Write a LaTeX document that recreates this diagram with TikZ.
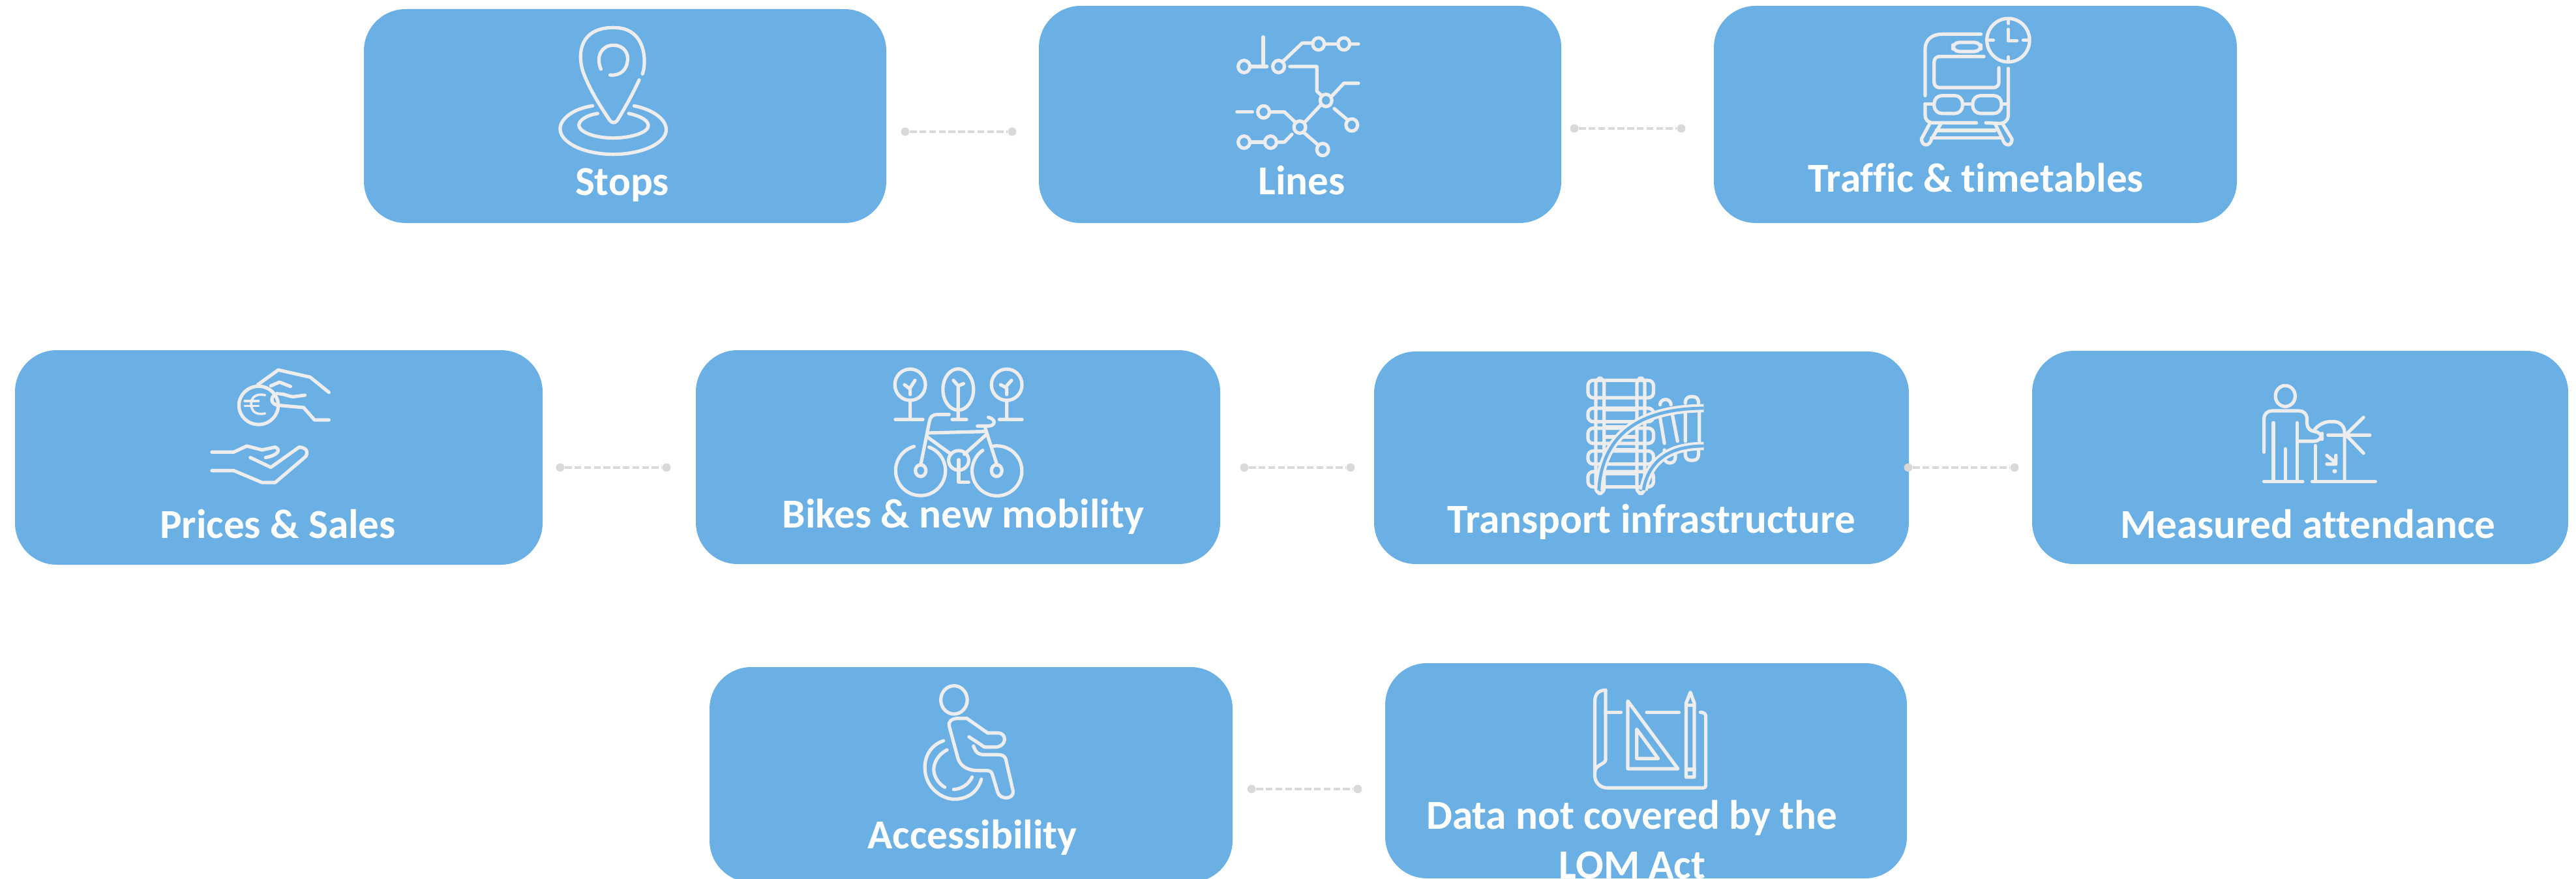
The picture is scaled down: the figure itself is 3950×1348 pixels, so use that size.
\documentclass[tikz,border=0pt]{standalone}
\usepackage{fontspec}
\setmainfont[Ligatures=CommonOff,Contextuals=NoAlternate]{Carlito}
\definecolor{boxc}{HTML}{6AB0E4}
\definecolor{iconc}{HTML}{EDEDED}
\definecolor{linkc}{HTML}{D9D9D9}
\tikzset{
  box/.style={draw=none,fill=boxc,rectangle,rounded corners=16pt,inner sep=0pt},
  lab/.style={text=white,font=\bfseries\fontsize{15.8}{19}\selectfont,anchor=base,inner sep=0pt,align=center},
  linkdot/.style={draw=none,fill=linkc,circle,minimum size=3.2pt,inner sep=0pt},
  linkline/.style={draw=linkc,line width=0.8pt,dash pattern=on 2.6pt off 1.1pt},
  view/.style n args={3}{shift={(#1,#2)},xscale=#3,yscale=0.33333,color=iconc,line width=1.3pt,line cap=round,line join=round}
}
\begin{document}
\begin{tikzpicture}[x=0.25pt,y=-0.25pt]
\useasboundingbox (0,0) rectangle (3950,1348);
\clip (0,0) rectangle (3950,1348);
% boxes
\node[box,minimum width=200.25pt,minimum height=82pt] (stops) at (958.5,178) {};
\node[box,minimum width=200.25pt,minimum height=83.25pt] (lines) at (1993.5,175.5) {};
\node[box,minimum width=200.5pt,minimum height=83.25pt] (traffic) at (3029,175.5) {};
\node[box,minimum width=202.25pt,minimum height=82.25pt] (prices) at (427.5,701.5) {};
\node[box,minimum width=201pt,minimum height=82pt] (bikes) at (1469,701) {};
\node[box,minimum width=205pt,minimum height=81.5pt] (infra) at (2517,702) {};
\node[box,minimum width=205.5pt,minimum height=81.75pt] (measured) at (3527,701.5) {};
\node[box,minimum width=200.5pt,minimum height=82.5pt] (access) at (1489,1188) {};
\node[box,minimum width=200pt,minimum height=82.5pt] (notlom) at (2524,1182) {};
% labels
\node[lab] (stopsl) at (954,299) {Stops};
\node[lab] (linesl) at (1996,298) {Lines};
\node[lab] (trafficl) at (3030,295) {Traffic \& timetables};
\node[lab] (pricesl) at (426,825) {Prices \& Sales};
\node[lab] (bikesl) at (1477,809) {Bikes \& new mobility};
\node[lab] (infral) at (2532,817) {Transport infrastructure};
\node[lab] (measuredl) at (3539,825) {Measured attendance};
\node[lab] (accessl) at (1491,1301) {Accessibility};
\node[lab] (notloml) at (2502,1271) {Data not covered by the};
\node[lab] (notloml2) at (2503,1347) {LOM Act};
% connectors
\foreach \n/\xa/\xb/\yy in {a/1388/1552/202,b/2414/2578/197,c/859/1022/717,d/1908/2071/717,e/2926/3089/717,f/1919/2082/1210}{
  \node[linkdot] (\n1) at (\xa,\yy) {};
  \node[linkdot] (\n2) at (\xb,\yy) {};
  \draw[linkline] (\n1) -- (\n2);
}
% Stops icon
\begin{scope}[view={540}{0}{0.6378}]
\draw (698,340) .. controls (708,290) and (708,125) .. (628,127) .. controls (550,127) and (540,240) .. (555,330) .. controls (570,410) and (600,500) .. (620,555) .. controls (625,567) and (632,567) .. (637,555) .. controls (655,500) and (675,430) .. (690,368);
\draw (598,318) .. controls (585,260) and (600,208) .. (628,208) .. controls (655,208) and (665,250) .. (662,280) .. controls (660,320) and (645,350) .. (620,345);
\draw (578,487) .. controls (530,500) and (498,550) .. (500,597) .. controls (503,660) and (560,710) .. (628,710) .. controls (695,710) and (755,660) .. (755,597) .. controls (755,550) and (725,505) .. (678,487);
\draw (590,522) .. controls (560,532) and (545,555) .. (545,578) .. controls (548,610) and (585,635) .. (628,635) .. controls (670,635) and (712,610) .. (712,578) .. controls (712,555) and (695,535) .. (665,522);
\end{scope}
% Lines icon
\begin{scope}[view={1560}{0}{0.6378}]
\foreach \p in {(545,306),(628,306),(724,202),(785,202),(742,462),(592,515),(679,585),(804,575),(545,654),(609,654),(734,688)}
  \draw \p ellipse[x radius=14,y radius=28];
\draw (591,170)--(591,306);
\draw (561,306)--(600,306);
\draw (640,280)--(685,198)--(710,198);
\draw (738,202)--(771,202);
\draw (800,202)--(820,202);
\draw (655,306)--(720,306)--(720,420)--(732,440);
\draw (757,440)--(785,383)--(820,383);
\draw (762,500)--(793,550);
\draw (730,482)--(692,560);
\draw (528,515)--(565,515);
\draw (608,515)--(642,515)--(668,562);
\draw (560,654)--(595,654);
\draw (624,654)--(642,654)--(660,618);
\draw (690,612)--(722,665);
\end{scope}
% Traffic icon
\begin{scope}[view={2580}{0}{0.574}]
\draw (870,185) ellipse[x radius=57,y radius=100];
\draw (870,90)--(870,108) (870,262)--(870,280) (818,185)--(830,185) (910,185)--(922,185);
\draw (870,135)--(870,188)--(893,188);
\draw (797,157) -- (695,157) .. controls (665,157) and (648,185) .. (648,225) -- (648,440);
\draw[rounded corners=2.5pt] (722,195) rectangle (797,237);
\draw[rounded corners=2pt] (805,260)--(672,260)--(672,403)--(845,403)--(845,312);
\draw (870,315)--(870,530) .. controls (870,555) and (860,568) .. (845,568) -- (810,565);
\draw (648,478)--(648,530) .. controls (648,550) and (655,565) .. (670,565) -- (785,565);
\draw[rounded corners=3pt] (672,440) rectangle (748,522);
\draw[rounded corners=3pt] (775,440) rectangle (852,522);
\draw (648,478)--(672,478) (748,478)--(775,478) (852,478)--(870,478);
\draw (660,570)--(638,640) .. controls (640,675) and (660,675) .. (665,640) -- (690,570);
\draw (835,570)--(855,640) .. controls (860,675) and (880,675) .. (880,640) -- (855,570);
\draw (678,600)--(835,600) (665,635)--(850,635);
\end{scope}
% Prices icon
\begin{scope}[view={0}{520}{0.6698}]
\draw (592,305) ellipse[x radius=45,y radius=88];
\draw[line width=0.9pt] (607,258) .. controls (585,248) and (575,270) .. (575,298) .. controls (575,330) and (585,352) .. (607,342);
\draw[line width=0.9pt] (560,285)--(592,285) (560,308)--(592,308);
\draw (590,210)--(637,142)--(710,175)--(753,245);
\draw (620,215)--(640,198)--(665,218);
\draw (640,252) .. controls (650,250) and (660,265) .. (672,265) -- (698,258);
\draw (635,250) .. controls (615,265) and (620,305) .. (640,305) -- (695,315) -- (720,372) -- (753,372);
\draw (485,520)--(535,520)--(565,492)--(600,510)--(630,497) .. controls (645,510) and (635,535) .. (608,545);
\draw (573,545)--(620,590)--(685,497) .. controls (705,500) and (705,525) .. (700,540) -- (630,660) -- (600,660) -- (535,605) -- (485,605);
\end{scope}
% Bikes icon
\begin{scope}[view={1050}{520}{0.6698}]
\draw (516,210) ellipse[x radius=35,y radius=72];
\draw (626,232) ellipse[x radius=35,y radius=95];
\draw (737,210) ellipse[x radius=35,y radius=72];
\draw (516,282)--(516,370) (482,370)--(545,370) (516,255)--(516,230)--(503,210) (516,225)--(527,190);
\draw (626,327)--(626,370) (612,370)--(645,370) (626,320)--(626,215)--(615,190) (626,215)--(638,205);
\draw (737,282)--(737,370) (720,370)--(772,370) (737,255)--(737,225)--(723,210) (737,215)--(748,190);
\draw (605,347)--(580,347) .. controls (565,347) and (562,360) .. (560,380) -- (540,580);
\draw (695,360) .. controls (715,370) and (710,400) .. (695,400) -- (670,400);
\draw (555,432)--(690,425);
\draw (555,450)--(610,530);
\draw (690,440)--(640,530);
\draw (688,410)--(715,580);
\draw (540,605) ellipse[x radius=12,y radius=27];
\draw (714,605) ellipse[x radius=12,y radius=27];
\draw (525,494) arc[start angle=255,end angle=-70,x radius=57,y radius=115];
\draw (682,512) arc[start angle=235,end angle=-100,x radius=57,y radius=115];
\draw (627,558) ellipse[x radius=23,y radius=45];
\draw (627,555)--(627,658)--(650,658);
\end{scope}
% Transport infrastructure icon
\begin{scope}[view={2090}{520}{0.6698}]
\foreach \a/\b in {190/270,318/380,410/480,515/575,610/680}
  \draw[rounded corners=2pt] (515,\a) rectangle (665,\b);
\foreach \a in {325,405,450,510,620}
  \draw (552,\a)--(625,\a);
\draw[rounded corners=2pt] (533,180) rectangle (552,710);
\draw[rounded corners=2pt] (627,180) rectangle (645,710);
\draw[rounded corners=2pt] (680,300)--(680,278)--(705,278)--(705,300);
\draw[rounded corners=2pt] (738,295)--(738,265)--(768,265)--(768,295);
\draw[rounded corners=2pt] (690,510)--(690,570)--(715,570)--(715,510);
\draw[rounded corners=2pt] (738,505)--(738,558)--(768,558)--(768,505);
\draw (680,360)--(690,480) (708,345)--(720,470) (738,340)--(738,470) (770,335)--(770,470);
\draw[double=boxc,double distance=1.2pt,line width=1pt,line cap=butt] (540,695) .. controls (545,500) and (600,320) .. (780,318);
\draw[double=boxc,double distance=1.2pt,line width=1pt,line cap=butt] (642,695) .. controls (650,600) and (680,492) .. (780,492);
\end{scope}
% Measured icon
\begin{scope}[view={3000}{520}{0.606}]
\draw (832,262) ellipse[x radius=25,y radius=48];
\draw[rounded corners=3pt] (778,520)--(778,330)--(887,330)--(887,425)--(925,425)--(925,470)--(865,470);
\draw (802,385)--(802,650) (862,385)--(862,650) (832,505)--(832,650) (778,655)--(876,655);
\draw (908,490)--(908,650) (900,655)--(1060,655);
\draw[rounded corners=4pt] (982,650)--(982,380)--(918,380)--(905,420);
\draw (937,535)--(960,570) (960,535)--(960,575)--(937,575);
\fill (957,608) ellipse[x radius=6,y radius=10];
\draw (985,440)--(1030,360) (985,440)--(1030,525) (940,442)--(1046,442);
\end{scope}
% Accessibility icon
\begin{scope}[view={1060}{1000}{0.676}]
\draw (596,220) ellipse[x radius=30,y radius=65];
\draw (672,372) -- (625,305) -- (605,305) .. controls (590,305) and (583,320) .. (585,340) -- (605,490) .. controls (612,530) and (630,545) .. (650,545) -- (670,545) .. controls (680,545) and (682,555) .. (684,570) -- (695,645) .. controls (700,680) and (732,680) .. (730,640) -- (713,490) .. controls (710,478) and (705,472) .. (695,472) -- (665,472) .. controls (650,472) and (645,460) .. (640,432);
\draw (630,390)--(665,437)--(690,437) .. controls (715,437) and (718,372) .. (695,372) -- (672,372);
\draw (572,408) .. controls (540,430) and (528,490) .. (530,540) .. controls (532,620) and (565,675) .. (597,677) .. controls (630,675) and (650,640) .. (658,585);
\draw (580,450) .. controls (560,470) and (550,510) .. (550,540) .. controls (550,570) and (560,605) .. (575,622);
\draw (637,575) .. controls (630,605) and (615,630) .. (595,632);
\end{scope}
% Data icon
\begin{scope}[view={2100}{1000}{0.5485}]
\draw (660,175) .. controls (640,175) and (630,195) .. (630,225) -- (630,570) .. controls (630,600) and (645,625) .. (665,625) -- (930,625) .. controls (938,625) and (940,620) .. (940,610) -- (940,295) .. controls (940,285) and (935,277) .. (925,277);
\draw (660,175)--(660,495) .. controls (660,515) and (630,520) .. (630,550);
\draw (660,277)--(703,277) (775,277)--(865,277);
\draw (722,225)--(722,537)--(862,537)--cycle;
\draw (747,355)--(747,490)--(807,490)--cycle;
\draw (885,575)--(885,235)--(897,185)--(908,235)--(908,575)--cycle;
\draw (885,245)--(908,245) (885,540)--(908,540);
\end{scope}
\end{tikzpicture}
\end{document}
